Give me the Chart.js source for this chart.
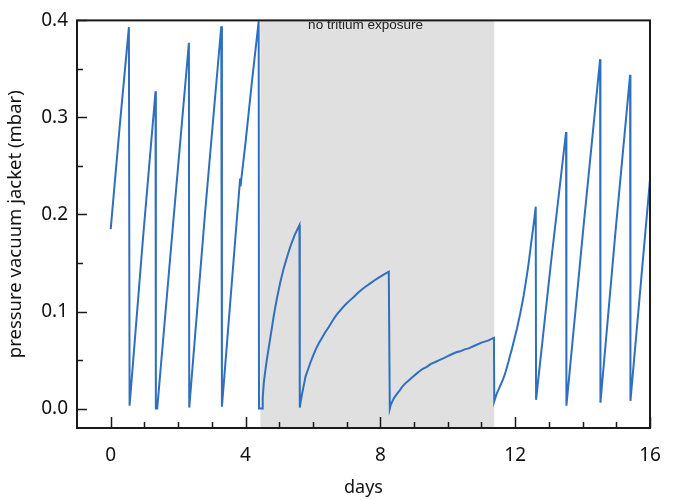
<!DOCTYPE html>
<html>
<head>
<meta charset="utf-8">
<script src="https://cdn.jsdelivr.net/npm/chart.js@4.4.1/dist/chart.umd.min.js"></script>
<style>
  html, body { margin: 0; padding: 0; background: #fff; }
  #wrap { width: 678px; height: 500px; }
</style>
</head>
<body>
<div id="wrap"><canvas id="pressureChart" width="678" height="500"></canvas></div>
<script>
// days since start
const days = [
  0.00, 0.27, 0.54, 0.56,
  0.95, 1.33, 1.34, 1.38,
  1.86, 2.32, 2.33,
  2.80, 3.28, 3.30,
  3.69, 3.84, 3.85, 4.00, 4.20, 4.39, 4.40, 4.49,
  4.51, 4.54, 4.59, 4.64, 4.69, 4.74, 4.79, 4.84, 4.89, 4.94, 5.03, 5.13, 5.23, 5.33, 5.46, 5.60, 5.61,
  5.64, 5.67, 5.70, 5.74, 5.78, 5.85, 5.92, 6.00, 6.07, 6.17, 6.27, 6.37, 6.47, 6.59, 6.71, 6.83, 6.96,
  7.08, 7.21, 7.33, 7.46, 7.58, 7.70, 7.82, 7.95, 8.10, 8.25, 8.28,
  8.31, 8.35, 8.39, 8.44, 8.51, 8.58, 8.66, 8.74, 8.84, 8.94, 9.04, 9.14, 9.26, 9.38, 9.50, 9.63,
  9.75, 9.88, 10.00, 10.12, 10.25, 10.37, 10.50, 10.62, 10.81, 11.00, 11.19, 11.37, 11.38,
  11.42, 11.46, 11.50, 11.55, 11.60, 11.65, 11.70, 11.75, 11.80, 11.85, 11.90, 11.95, 12.00, 12.05,
  12.10, 12.15, 12.20, 12.25, 12.30, 12.35, 12.40, 12.44, 12.48, 12.53, 12.57, 12.61, 12.62,
  13.06, 13.51, 13.52,
  14.02, 14.52, 14.53,
  14.97, 15.41, 15.42,
  16.00
];

// pressure in the vacuum jacket (mbar)
const pressure = [
  0.185, 0.292, 0.393, 0.003,
  0.172, 0.327, 0.000, 0.000,
  0.194, 0.377, 0.001,
  0.202, 0.394, 0.002,
  0.172, 0.237, 0.229, 0.274, 0.340, 0.399, 0.000, 0.000,
  0.011, 0.026, 0.040, 0.052, 0.063, 0.074, 0.085, 0.096, 0.106, 0.115, 0.130, 0.144, 0.156, 0.167, 0.179, 0.189, 0.001,
  0.008, 0.014, 0.019, 0.026, 0.033, 0.040, 0.047, 0.054, 0.060, 0.067, 0.073, 0.079, 0.084, 0.091, 0.097, 0.102, 0.107,
  0.111, 0.115, 0.119, 0.123, 0.126, 0.129, 0.132, 0.135, 0.138, 0.141, 0.000,
  0.004, 0.007, 0.010, 0.0126, 0.016, 0.019, 0.023, 0.026, 0.029, 0.032, 0.035, 0.038, 0.041, 0.043, 0.046, 0.048,
  0.050, 0.052, 0.054, 0.056, 0.058, 0.059, 0.061, 0.062, 0.065, 0.068, 0.070, 0.073, 0.0075,
  0.012, 0.016, 0.019, 0.023, 0.027, 0.031, 0.036, 0.042, 0.048, 0.055, 0.061, 0.068, 0.075, 0.082,
  0.090, 0.098, 0.107, 0.116, 0.127, 0.138, 0.150, 0.161, 0.172, 0.185, 0.196, 0.208, 0.009,
  0.150, 0.285, 0.003,
  0.185, 0.360, 0.006,
  0.180, 0.344, 0.008,
  0.236
];

// shaded period without tritium
const shadeFrom = 4.44;
const shadeTo = 11.38;
const shadeLabel = "no tritium exposure";

// tick labels
const xTicks = [0, 4, 8, 12, 16];
const yTicks = [0.0, 0.1, 0.2, 0.3, 0.4];

const FONT = "'Noto Sans', 'Open Sans', sans-serif";

// draws the shaded band, box frame and inward ticks
const framePlugin = {
  id: "frame",
  beforeDatasetsDraw(chart) {
    const { ctx, chartArea, scales } = chart;
    const x0 = scales.x.getPixelForValue(shadeFrom);
    const x1 = scales.x.getPixelForValue(shadeTo);
    ctx.save();
    ctx.fillStyle = "#e0e0e0";
    ctx.fillRect(x0, chartArea.top, x1 - x0, chartArea.bottom - chartArea.top);
    ctx.fillStyle = "#222";
    ctx.font = "13.5px 'Liberation Sans', Arial, sans-serif";
    ctx.textAlign = "center";
    ctx.textBaseline = "alphabetic";
    ctx.fillText(shadeLabel, scales.x.getPixelForValue(7.56), chartArea.top + 9);
    ctx.restore();
  },
  afterDatasetsDraw(chart) {
    const { ctx, chartArea, scales } = chart;
    const { left, right, top, bottom } = chartArea;
    ctx.save();
    ctx.strokeStyle = "#1a1a1a";
    ctx.lineWidth = 1.5;
    // x ticks every day, long ones every 4 days
    for (let d = 0; d <= 16; d++) {
      const px = Math.round(scales.x.getPixelForValue(d)) + 0.5;
      const len = d % 4 === 0 ? 11 : 6;
      ctx.beginPath();
      ctx.moveTo(px, bottom);
      ctx.lineTo(px, bottom - len);
      ctx.stroke();
    }
    // y ticks every 0.05
    for (let i = 0; i <= 8; i++) {
      const py = Math.round(scales.y.getPixelForValue(i * 0.05)) + 0.5;
      const len = i % 2 === 0 ? 10 : 6;
      ctx.beginPath();
      ctx.moveTo(left, py);
      ctx.lineTo(left + len, py);
      ctx.stroke();
    }
    ctx.lineWidth = 2;
    ctx.strokeRect(left, top, right - left, bottom - top);
    ctx.restore();
  }
};

document.addEventListener("DOMContentLoaded", () => {
  const canvas = document.getElementById("pressureChart");
  const points = days.map((d, i) => ({ x: d, y: pressure[i] }));

  new Chart(canvas, {
    type: "line",
    data: {
      datasets: [
        {
          data: points,
          borderColor: "#2f6fbf",
          borderWidth: 2,
          pointRadius: 0,
          tension: 0,
          fill: false,
        },
      ],
    },
    options: {
      responsive: false,
      animation: false,
      layout: { padding: { top: 17, right: 28, left: 0, bottom: 0 } },
      plugins: {
        legend: { display: false },
        tooltip: { enabled: false },
      },
      scales: {
        x: {
          type: "linear",
          min: -1,
          max: 16,
          afterBuildTicks: (scale) => {
            scale.ticks = xTicks.map((v) => ({ value: v }));
          },
          afterFit: (scale) => {
            scale.height = 72;
          },
          grid: { display: false, drawTicks: false },
          border: { display: false },
          ticks: {
            color: "#111",
            font: { family: FONT, size: 19 },
            padding: 16,
            maxRotation: 0,
            callback: (v) => String(v),
          },
          title: {
            display: true,
            text: "days",
            color: "#111",
            font: { family: FONT, size: 18 },
            padding: { top: 0, bottom: 1 },
          },
        },
        y: {
          min: -0.02,
          max: 0.4,
          afterBuildTicks: (scale) => {
            scale.ticks = yTicks.map((v) => ({ value: v }));
          },
          afterFit: (scale) => {
            scale.width = 77;
          },
          grid: { display: false, drawTicks: false },
          border: { display: false },
          ticks: {
            color: "#111",
            font: { family: FONT, size: 19 },
            padding: 9,
            callback: (v) => Number(v).toFixed(1),
          },
          title: {
            display: true,
            text: "pressure vacuum jacket (mbar)",
            color: "#111",
            font: { family: FONT, size: 18.5 },
            padding: { top: 5, bottom: 0 },
          },
        },
      },
    },
    plugins: [framePlugin],
  });
});
</script>
</body>
</html>
